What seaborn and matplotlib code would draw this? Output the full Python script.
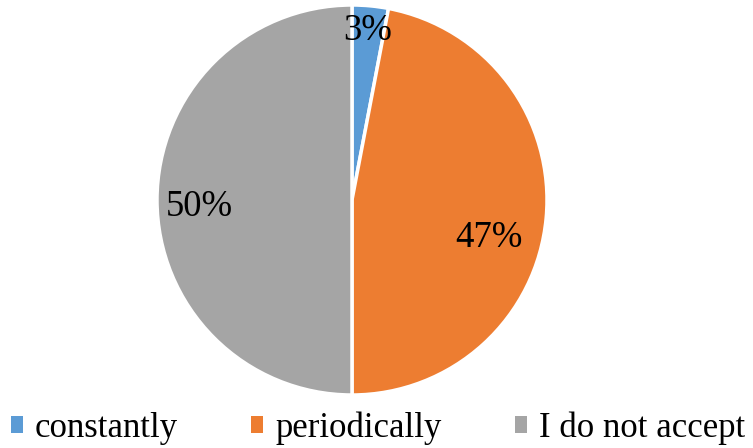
import matplotlib
matplotlib.use("Agg")
import matplotlib.pyplot as plt
from matplotlib.patches import Patch
import seaborn as sns
import numpy as np

categories = ["constantly", "periodically", "I do not accept"]
shares = [3, 47, 50]
colors = ["#5B9BD5", "#ED7D31", "#A5A5A5"]

sns.set_style("white")
plt.rcParams['font.family'] = ['Liberation Serif', 'DejaVu Serif']
plt.rcParams['text.color'] = 'black'

fig = plt.figure(figsize=(7.53, 4.48), dpi=100)
ax = fig.add_axes([0, 0, 1, 1])

wedges, _ = ax.pie(shares, colors=colors, startangle=90, counterclock=False,
                   center=(352, 248), radius=195,
                   wedgeprops=dict(edgecolor='white', linewidth=2.5))
ax.set_xlim(0, 753)
ax.set_ylim(0, 448)
ax.set_aspect('equal')
ax.axis('off')

# label placement (radius fraction, angle offset) roughly like Excel's best fit
label_pos = [(0.87, 0), (0.73, -10), (0.785, 2.6)]
cum = np.cumsum([0] + shares)
for i, s in enumerate(shares):
    mid = 90 - (cum[i] + s / 2) / 100 * 360 + label_pos[i][1]
    r = 195 * label_pos[i][0]
    x = 352 + r * np.cos(np.radians(mid))
    y = 248 + r * np.sin(np.radians(mid))
    ax.text(x, y, f"{s}%", ha='center', va='center', fontsize=26.5, color='black')

handles = [Patch(facecolor=c, edgecolor='none') for c in colors]
leg = fig.legend(handles, categories, loc='lower center', bbox_to_anchor=(0.502, -0.055),
                 ncol=3, frameon=False, fontsize=25, handlelength=0.35, handleheight=0.35,
                 handletextpad=0.35, columnspacing=2.1, labelcolor='black',
                 borderpad=0.3)

fig.savefig("out.png", dpi=100)
